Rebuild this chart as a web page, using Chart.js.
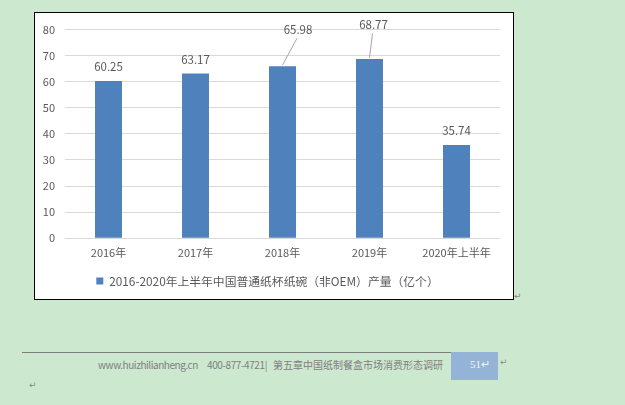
<!DOCTYPE html>
<html>
<head>
<meta charset="utf-8">
<script src="https://cdn.jsdelivr.net/npm/chart.js@4"></script>
<style>
  html, body { margin: 0; padding: 0; }
  body { width: 625px; height: 405px; background: #cce8cf; position: relative; overflow: hidden;
         font-family: "Noto Sans CJK SC", sans-serif; }
  #box { position: absolute; left: 34px; top: 12px; width: 478px; height: 286px;
         border: 1px solid #000; background: #fff; }
  #chart { position: absolute; left: 0; top: 0; }
  .ret { position: absolute; color: #8a8a8a; font-family: "DejaVu Sans", sans-serif; font-size: 9px; }
  #rule { position: absolute; left: 22px; top: 352px; width: 429px; height: 1px; background: #7f7f7f; }
  .foot { position: absolute; top: 357px; font-size: 10px; color: #7f7f7f; white-space: nowrap; }
  #page { position: absolute; left: 451px; top: 352px; width: 47px; height: 28px; background: #95b3d7; }
  #page span { position: absolute; left: 19px; top: 6px; color: #f4f4f4; font-family: "Liberation Serif", serif; font-size: 11px; }
</style>
</head>
<body>
<div id="box"><canvas id="chart" width="478" height="286"></canvas></div>
<span class="ret" style="left:514px; top:291px;">↵</span>
<div id="rule"></div>
<span class="foot" style="left:98px; letter-spacing:-0.45px;">www.huizhilianheng.cn</span>
<span class="foot" style="left:207px; letter-spacing:-0.4px;">400-877-4721|</span>
<span class="foot" style="left:273px; font-size:10px; letter-spacing:0px;">第五章中国纸制餐盒市场消费形态调研</span>
<div id="page"><span>51<span class="ret" style="position:static; color:#f4f4f4;">↵</span></span></div>
<span class="ret" style="left:500px; top:357px;">↵</span>
<span class="ret" style="left:29px; top:380px;">↵</span>
<script>
// chart data
const categories = ["2016年", "2017年", "2018年", "2019年", "2020年上半年"];
const output = [60.25, 63.17, 65.98, 68.77, 35.74];
const yTicks = [0, 10, 20, 30, 40, 50, 60, 70, 80];
const seriesName = "2016-2020年上半年中国普通纸杯纸碗（非OEM）产量（亿个）";

const textColor = "#595959";
const fontFamily = "'Noto Sans CJK SC', sans-serif";

// value labels above bars, some pulled up with a leader line
const barLabels = {
  id: "barLabels",
  afterDatasetsDraw(chart, args, opts) {
    const ctx = chart.ctx;
    const meta = chart.getDatasetMeta(0);
    ctx.save();
    ctx.font = "11.5px " + fontFamily;
    ctx.fillStyle = textColor;
    ctx.textAlign = "center";
    ctx.textBaseline = "middle";
    meta.data.forEach((bar, i) => {
      const off = opts.shift[i] || { dx: 0, dy: 0 };
      const lx = bar.x + off.dx;
      const ly = bar.y - 14 + off.dy;
      if (off.dx || off.dy) {
        ctx.strokeStyle = "#a6a6a6";
        ctx.lineWidth = 1;
        ctx.beginPath();
        ctx.moveTo(bar.x, bar.y - 1);
        ctx.lineTo(lx - 1, ly + 9);
        ctx.stroke();
      }
      ctx.fillText(output[i].toFixed(2), lx, ly);
    });
    ctx.restore();
  }
};

new Chart(document.getElementById("chart"), {
  type: "bar",
  data: {
    labels: categories,
    datasets: [{
      label: seriesName,
      data: output,
      backgroundColor: "#4f81bd",
      barPercentage: 0.31,
      categoryPercentage: 1
    }]
  },
  options: {
    responsive: false,
    animation: false,
    layout: { padding: { top: 14, right: 13, bottom: 2, left: 0 } },
    plugins: {
      legend: {
        position: "bottom",
        labels: {
          color: textColor,
          font: { family: fontFamily, size: 11.8 },
          boxWidth: 7,
          boxHeight: 7,
          padding: 10
        }
      },
      tooltip: { enabled: false },
      barLabels: {
        shift: { 2: { dx: 15.5, dy: -23 }, 3: { dx: 4, dy: -20.5 } }
      }
    },
    scales: {
      x: {
        grid: { display: false, drawTicks: false },
        border: { display: false },
        ticks: { color: textColor, font: { family: fontFamily, size: 11 }, padding: 8 },
        afterFit(scale) { scale.height = 27; }
      },
      y: {
        min: 0,
        max: 80,
        afterBuildTicks(scale) { scale.ticks = yTicks.map(v => ({ value: v })); },
        grid: { color: "#d9d9d9", drawTicks: false },
        border: { display: false },
        ticks: { color: textColor, font: { family: fontFamily, size: 11 }, padding: 10 },
        afterFit(scale) { scale.width = 30; }
      }
    }
  },
  plugins: [barLabels]
});
</script>
</body>
</html>
